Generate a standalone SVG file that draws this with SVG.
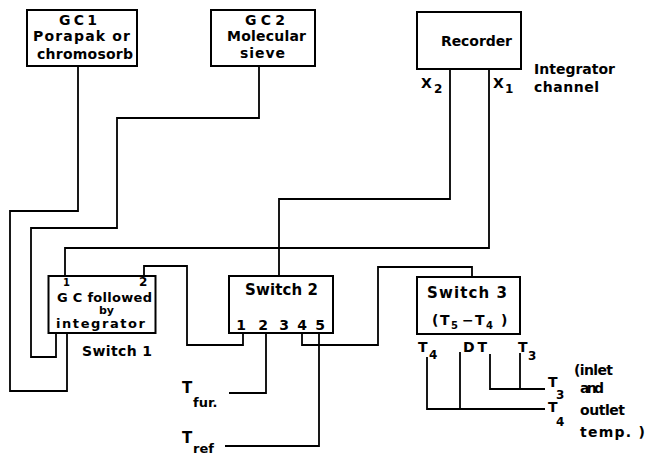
<svg xmlns="http://www.w3.org/2000/svg" width="648" height="457" viewBox="0 0 648 457">
<style>
.box{fill:#fff;stroke:#000;stroke-width:2}
.wire{fill:none;stroke:#000;stroke-width:1.8;stroke-linejoin:miter}
text{font-family:"DejaVu Sans","Liberation Sans",Arial,sans-serif;font-weight:bold;fill:#000;font-size:14px}
.sm{font-size:10px}
.sub{font-size:12px}
</style>
<rect width="648" height="457" fill="#fff"/>
<g id="connectors">
<path class="wire" d="M78,66 V211 H10 V391 H67 V333"/>
<path class="wire" d="M259,66 V118 H117 V228 H31 V357 H56 V333"/>
<path class="wire" d="M450,69 V199 H279 V276"/>
<path class="wire" d="M489,69 V248 H65 V276"/>
<path class="wire" d="M144,276 V266 H187 V345 H243 V333"/>
<path class="wire" d="M266,333 V393 H229"/>
<path class="wire" d="M319,333 V446 H225"/>
<path class="wire" d="M302,333 V345 H378 V267 H472 V277"/>
<path class="wire" d="M427,357 V409 H545"/>
<path class="wire" d="M460,352 V409"/>
<path class="wire" d="M490,354 V389 H545"/>
<path class="wire" d="M520,353 V389"/>
</g>
<g id="gc1">
<rect class="box" x="27" y="10" width="110" height="56"/>
<text x="59" y="25" textLength="38" lengthAdjust="spacing">GC1</text>
<text x="33" y="41" textLength="97" lengthAdjust="spacing">Porapak or</text>
<text x="37" y="59" textLength="96" lengthAdjust="spacing">chromosorb</text>
</g>
<g id="gc2">
<rect class="box" x="211" y="10" width="104" height="56"/>
<text x="245" y="25" textLength="40" lengthAdjust="spacing">GC2</text>
<text x="227" y="41" textLength="79" lengthAdjust="spacing">Molecular</text>
<text x="240" y="58" textLength="45" lengthAdjust="spacing">sieve</text>
</g>
<g id="recorder">
<rect class="box" x="417" y="12" width="104" height="57"/>
<text x="441" y="46" textLength="71" lengthAdjust="spacing">Recorder</text>
<text x="421" y="88">X</text><text class="sub" x="434" y="93">2</text>
<text x="493" y="88">X</text><text class="sub" x="505" y="93">1</text>
<text x="534" y="74" textLength="81" lengthAdjust="spacing">Integrator</text>
<text x="534" y="92" textLength="65" lengthAdjust="spacing">channel</text>
</g>
<g id="switch1">
<rect class="box" x="48.5" y="276" width="107" height="57"/>
<text class="sm" x="63" y="286">1</text>
<text class="sub" x="139" y="286">2</text>
<text x="57" y="302" textLength="95" lengthAdjust="spacing" style="font-size:13px">G C followed</text>
<text x="99" y="314" style="font-size:11px">by</text>
<text x="56" y="328" textLength="89" lengthAdjust="spacing" style="font-size:13px">integrator</text>
<text x="82" y="356" textLength="70" lengthAdjust="spacing">Switch 1</text>
</g>
<g id="switch2">
<rect class="box" x="229" y="276" width="104" height="57"/>
<text x="245" y="295" textLength="73" lengthAdjust="spacing" style="font-size:15px">Switch 2</text>
<g style="font-size:15px" text-anchor="middle">
<text x="241" y="330">1</text><text x="263" y="330">2</text><text x="284" y="330">3</text><text x="302" y="330">4</text><text x="320" y="330">5</text>
</g>
</g>
<g id="switch3">
<rect class="box" x="417" y="277" width="103" height="57"/>
<text x="427" y="298" textLength="80" lengthAdjust="spacing" style="font-size:15px">Switch 3</text>
<text x="432" y="325">(</text><text x="440" y="325">T</text><text class="sm" x="451" y="329">5</text>
<text x="462" y="325">−</text><text x="475" y="325">T</text><text class="sm" x="486" y="329">4</text><text x="501" y="325">)</text>
<text x="418" y="352">T</text><text class="sub" x="429" y="359">4</text>
<text x="463" y="352" textLength="24" lengthAdjust="spacing">DT</text>
<text x="518" y="352">T</text><text class="sub" x="528" y="360">3</text>
</g>
<g id="t-fur">
<text x="182" y="393" style="font-size:15px">T</text><text x="193" y="407" style="font-size:13px">fur.</text>
</g>
<g id="t-ref">
<text x="182" y="443" style="font-size:15px">T</text><text x="193" y="453" style="font-size:13px">ref</text>
</g>
<g id="t3-t4">
<text x="548" y="387">T</text><text class="sub" x="556" y="399">3</text>
<text x="548" y="412">T</text><text class="sub" x="556" y="426">4</text>
<text x="574" y="375" textLength="39" lengthAdjust="spacing">(inlet</text>
<text x="580" y="393" textLength="24" lengthAdjust="spacing">and</text>
<text x="580" y="415" textLength="45" lengthAdjust="spacing">outlet</text>
<text x="580" y="437" textLength="65" lengthAdjust="spacing">temp. )</text>
</g>
</svg>
